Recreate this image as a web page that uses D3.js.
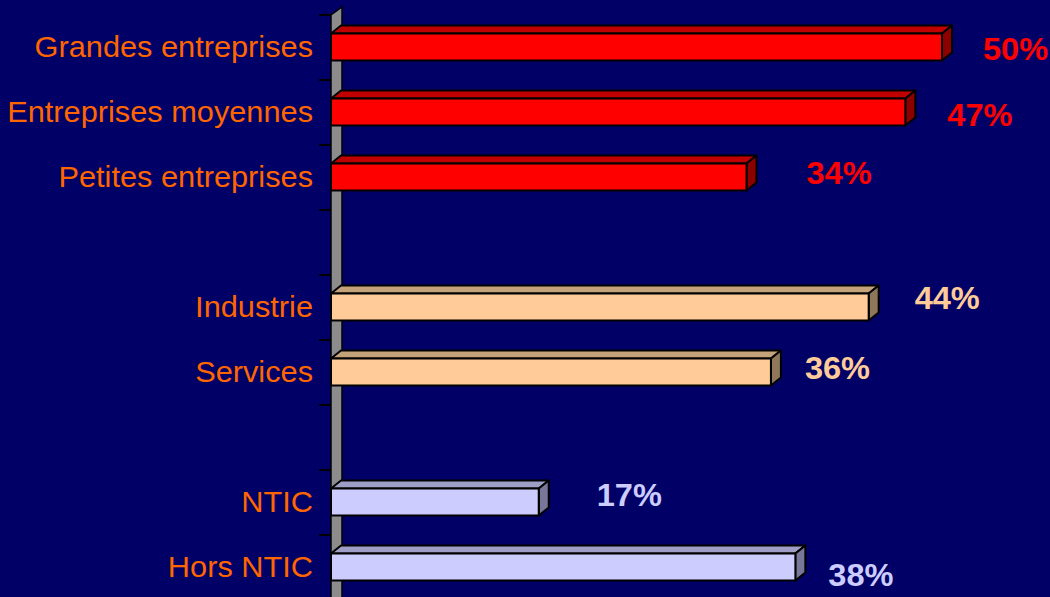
<!DOCTYPE html>
<html>
<head>
<meta charset="utf-8">
<script src="https://cdn.jsdelivr.net/npm/d3@7"></script>
<style>
  html, body { margin: 0; padding: 0; background: #000066; overflow: hidden; }
  svg { display: block; }
  text { font-family: "Liberation Sans", Arial, sans-serif; }
</style>
</head>
<body>
<svg id="chart"></svg>
<script>
// values (percent)
var categories = ["Grandes entreprises", "Entreprises moyennes", "Petites entreprises",
                  "Industrie", "Services", "NTIC", "Hors NTIC"];
var values = [50, 47, 34, 44, 36, 17, 38];
var groups = ["taille", "taille", "taille", "secteur", "secteur", "ntic", "ntic"];
var xTicks = [0, 50];

// hand placed value labels in the original (offsets in px)
var labelDx = [41, 42, 60, 46, 34, 58, 33];
var labelDy = [1.5, 2, -4.5, -9.5, -4.5, -8, 7];

var width = 1050, height = 597;
var depth = {x: 10, y: -8};

var colors = {
  taille:  {front: "#ff0000", top: "#c00000", side: "#8c0000", label: "#ff0000"},
  secteur: {front: "#ffcc99", top: "#c4a37a", side: "#8f775c", label: "#ffcc99"},
  ntic:    {front: "#ccccff", top: "#9e9ec6", side: "#77779a", label: "#ccccff"}
};

// rows with an empty slot between groups
var rows = [];
categories.forEach(function(c, i) {
  if (i > 0 && groups[i] != groups[i - 1]) rows.push("gap" + i);
  rows.push(c);
});

var svg = d3.select("#chart").attr("width", width).attr("height", height);

svg.append("rect").attr("width", width).attr("height", height).attr("fill", "#000066");

var x = d3.scaleLinear().domain(d3.extent(xTicks)).range([331, 942]);
var y = d3.scaleBand().domain(rows).range([15, 600]).paddingInner(0).paddingOuter(0);
var barH = y.step() * 0.415;
var barTop = d => y(d.name) + (y.step() - barH) / 2 - 0.5;

// wall (the 3d axis)
var x0 = x(0);
svg.append("path")
  .attr("d", "M" + x0 + ",15 L" + (x0 + depth.x + 1) + "," + (15 + depth.y) +
             " L" + (x0 + depth.x + 1) + ",640 L" + x0 + ",640 Z")
  .attr("fill", "#8c8c8c")
  .attr("stroke", "#000")
  .attr("stroke-width", 1.5);

// tick marks
svg.append("g")
  .selectAll("line")
  .data(d3.range(rows.length + 1))
  .enter().append("line")
  .attr("x1", x0 - 12).attr("x2", x0)
  .attr("y1", d => 15 + d * y.step()).attr("y2", d => 15 + d * y.step())
  .attr("stroke", "#000").attr("stroke-width", 2);

var data = categories.map(function(c, i) {
  return {name: c, value: values[i], group: groups[i], dx: labelDx[i], dy: labelDy[i]};
});

var bar = svg.append("g").selectAll("g")
  .data(data)
  .enter().append("g");

function pts(p) { return p.map(q => q.join(",")).join(" "); }

// top face
bar.append("polygon")
  .attr("points", function(d) {
    var yt = barTop(d), x1 = x(d.value);
    return pts([[x0, yt], [x0 + depth.x, yt + depth.y], [x1 + depth.x, yt + depth.y], [x1, yt]]);
  })
  .attr("fill", d => colors[d.group].top)
  .attr("stroke", "#000").attr("stroke-width", 2).attr("stroke-linejoin", "round");

// side face
bar.append("polygon")
  .attr("points", function(d) {
    var yt = barTop(d), x1 = x(d.value);
    return pts([[x1, yt], [x1 + depth.x, yt + depth.y], [x1 + depth.x, yt + barH + depth.y], [x1, yt + barH]]);
  })
  .attr("fill", d => colors[d.group].side)
  .attr("stroke", "#000").attr("stroke-width", 2).attr("stroke-linejoin", "round");

// front face
bar.append("rect")
  .attr("x", x0)
  .attr("y", barTop)
  .attr("width", d => x(d.value) - x0)
  .attr("height", barH)
  .attr("fill", d => colors[d.group].front)
  .attr("stroke", "#000").attr("stroke-width", 2);

// category labels
svg.append("g").selectAll("text")
  .data(data)
  .enter().append("text")
  .attr("transform", d => "translate(313," + (y(d.name) + y.step() / 2 + 9.5) + ") scale(1.06,1)")
  .attr("text-anchor", "end")
  .attr("font-size", "29px")
  .attr("fill", "#ff6600")
  .text(d => d.name);

// value labels
svg.append("g").selectAll("text")
  .data(data)
  .enter().append("text")
  .attr("transform", d => "translate(" + (x(d.value) + d.dx) + "," +
        (y(d.name) + y.step() / 2 + d.dy + 11) + ") scale(1.05,1)")
  .attr("font-size", "31px")
  .attr("font-weight", "bold")
  .attr("fill", d => colors[d.group].label)
  .text(d => d.value + "%");
</script>
</body>
</html>
